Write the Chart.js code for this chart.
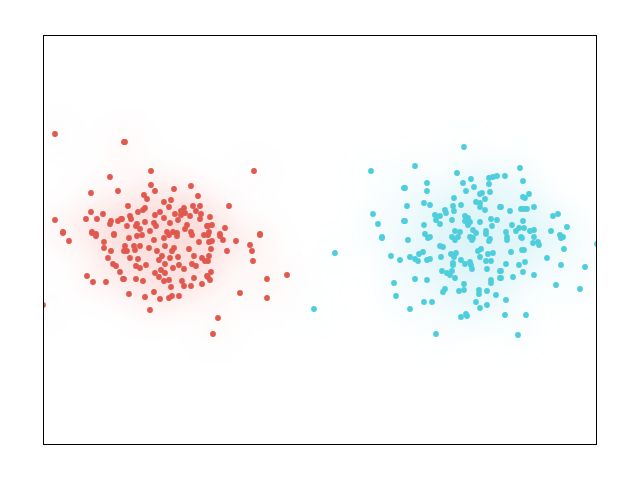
<!DOCTYPE html>
<html>
<head>
<meta charset="utf-8">
<script src="https://cdn.jsdelivr.net/npm/chart.js@4"></script>
<style>
  html, body { margin: 0; padding: 0; background: #fff; }
  #wrap { width: 640px; height: 480px; }
</style>
</head>
<body>
<div id="wrap"><canvas id="myChart" width="640" height="480"></canvas></div>
<script>
// axis ranges (data units, y grows downward)
const xRange = [43, 597];
const yRange = [35, 445];

// red cluster
const redX = [55,124,110,91,118,91,103,86,97,55,111,110,118,121,63,92,96,114,
  125,151,151,155,174,191,144,147,198,171,164,128,169,145,143,184,193,200,181,138,160,175,181,185,196,201,130,155,190,122,131,164,178,200,145,137,154,170,127,136,156,187,207,140,150,167,173,191,177,185,
  254,229,210,208,212,225,260,220,209,
  63,69,92,96,114,104,104,111,124,108,113,116,120,87,123,93,106,43,
  129,137,142,154,164,169,177,192,204,125,134,140,149,165,174,127,135,157,172,189,199,130,138,162,170,178,194,202,159,165,136,140,146,173,179,184,192,196,155,161,165,159,169,164,124,136,143,182,184,194,191,202,171,129,154,145,160,169,172,179,150,207,205,
  208,220,223,209,212,236,260,250,211,227,252,209,208,253,211,208,210,267,287,240,267,218,213];
const redY = [134,142,177,193,191,212,214,219,219,220,221,224,221,219,232,232,234,234,
  142,171,185,191,189,186,195,199,196,200,202,206,207,208,210,208,206,206,211,212,212,214,215,213,211,214,216,215,216,219,219,218,220,219,222,224,223,223,226,226,226,225,226,229,231,232,232,232,233,229,
  171,206,217,226,225,228,234,234,232,
  233,241,233,236,235,242,248,251,251,258,264,266,272,276,279,282,282,305,
  238,236,235,240,238,235,236,235,235,246,246,246,248,246,248,251,250,251,251,249,242,258,259,256,258,257,256,258,260,264,266,268,265,268,265,269,264,266,273,270,273,277,280,281,279,279,281,281,286,278,286,284,287,294,292,297,299,298,296,296,310,276,261,
  235,236,240,242,241,241,235,245,249,251,251,256,261,261,272,277,280,279,275,293,298,318,334];

// cyan cluster
const cyanX = [371,404,373,378,404,382,
  464,415,457,427,427,405,463,471,489,493,497,466,474,489,490,480,482,454,476,480,485,424,430,407,453,461,480,500,445,454,485,446,435,440,465,468,405,436,452,465,470,480,491,497,424,440,468,455,460,473,476,486,492,425,430,452,458,470,473,486,490,
  520,505,523,529,523,525,501,510,521,524,527,534,553,558,523,512,519,524,516,506,530,534,551,567,507,521,534,560,563,
  382,335,391,400,394,396,314,
  408,428,455,472,489,440,443,410,415,418,419,423,427,430,441,451,456,454,453,453,461,465,470,471,478,481,480,488,493,486,491,487,472,442,447,452,450,455,415,427,500,500,491,491,464,445,443,459,464,479,479,487,496,424,432,476,487,480,410,466,467,461,436,
  507,522,533,538,539,561,564,511,522,524,597,547,525,519,506,561,585,523,501,513,534,501,556,580,506,505,526,518];
const cyanY = [171,188,214,224,221,237,
  147,166,173,183,191,188,183,179,178,177,176,191,187,184,192,194,193,198,202,203,199,203,205,206,206,205,207,207,210,211,210,213,215,216,216,218,221,220,220,221,222,222,219,220,225,224,225,231,232,230,233,231,226,234,237,237,237,237,238,234,239,
  168,176,181,194,197,198,207,211,209,209,209,207,216,214,221,225,228,228,231,232,231,230,231,227,237,237,237,235,237,
  238,253,256,260,283,296,309,
  240,238,240,240,241,246,247,257,259,261,254,252,260,259,257,254,253,257,263,265,260,264,262,265,251,249,257,254,253,261,261,269,269,271,273,271,275,278,279,280,271,278,280,283,284,289,292,291,290,290,294,291,295,302,302,302,305,308,309,314,316,317,334,
  240,238,243,242,245,238,249,252,250,250,244,258,262,265,264,265,267,272,271,277,275,278,285,289,300,315,315,335];

const toPoints = (xs, ys) => xs.map((x, i) => ({ x: x, y: ys[i] }));

// soft halo behind each point: paint discs offscreen, then blur them in
const glowPlugin = {
  id: 'glow',
  beforeDatasetsDraw(chart) {
    const ctx = chart.ctx;
    const xs = chart.scales.x, ys = chart.scales.y;
    const area = chart.chartArea;
    const off = document.createElement('canvas');
    off.width = chart.width;
    off.height = chart.height;
    const octx = off.getContext('2d');
    chart.data.datasets.forEach(ds => {
      octx.fillStyle = 'rgba(' + ds.glowRgb + ',0.09)';
      ds.data.forEach(p => {
        octx.beginPath();
        octx.arc(xs.getPixelForValue(p.x), ys.getPixelForValue(p.y), 16, 0, Math.PI * 2);
        octx.fill();
      });
    });
    ctx.save();
    ctx.beginPath();
    ctx.rect(area.left, area.top, area.right - area.left, area.bottom - area.top);
    ctx.clip();
    ctx.globalAlpha = 0.3;
    ctx.filter = 'blur(14px)';
    ctx.drawImage(off, 0, 0);
    ctx.restore();
  }
};

// plain black frame round the plot area
const framePlugin = {
  id: 'frame',
  afterDraw(chart) {
    const a = chart.chartArea;
    const ctx = chart.ctx;
    ctx.save();
    ctx.strokeStyle = '#000';
    ctx.lineWidth = 1;
    ctx.strokeRect(a.left + 0.5, a.top + 0.5, a.right - a.left - 1, a.bottom - a.top - 1);
    ctx.restore();
  }
};

const ctx = document.getElementById('myChart').getContext('2d');
const myChart = new Chart(ctx, {
  type: 'scatter',
  data: {
    datasets: [{
      data: toPoints(redX, redY),
      backgroundColor: 'rgb(224,88,78)',
      borderWidth: 0,
      pointRadius: 2.9,
      glowRgb: '232,90,80'
    }, {
      data: toPoints(cyanX, cyanY),
      backgroundColor: 'rgb(78,206,220)',
      borderWidth: 0,
      pointRadius: 2.9,
      glowRgb: '80,205,218'
    }]
  },
  options: {
    responsive: false,
    animation: false,
    layout: { padding: { left: 43, right: 43, top: 35, bottom: 35 } },
    plugins: { legend: { display: false }, tooltip: { enabled: false } },
    scales: {
      x: { display: false, min: xRange[0], max: xRange[1] },
      y: { display: false, min: yRange[0], max: yRange[1], reverse: true }
    }
  },
  plugins: [glowPlugin, framePlugin]
});
</script>
</body>
</html>
